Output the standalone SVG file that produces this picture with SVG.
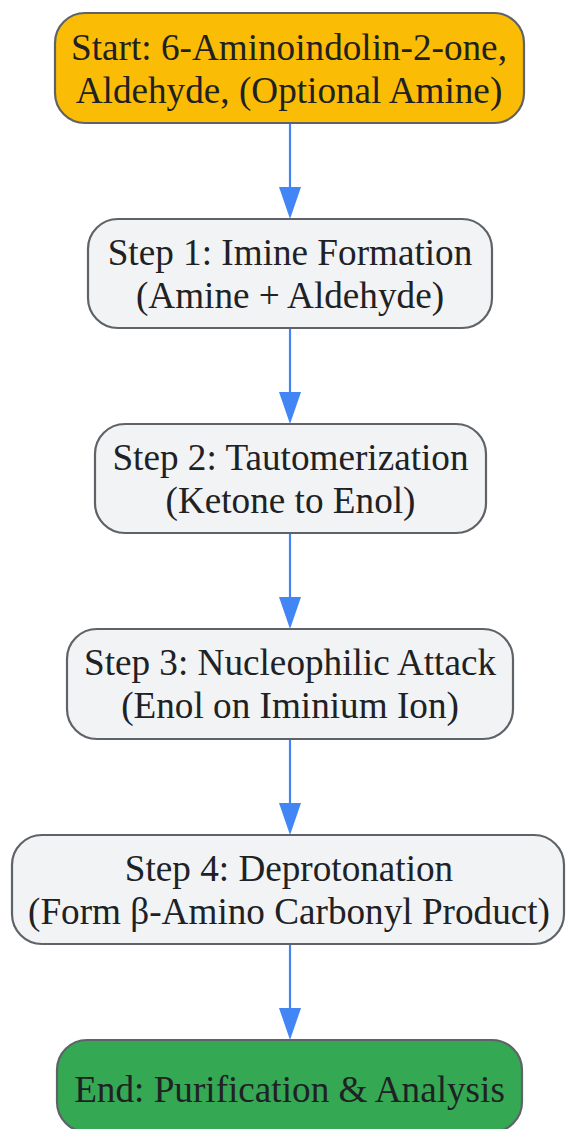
<svg xmlns="http://www.w3.org/2000/svg" width="566" height="1129" viewBox="0 0 566 1129">
<style>
.box{stroke:#5f6368;stroke-width:2.2}
.step{fill:#f1f3f4}
.start{fill:#fbbc05}
.end{fill:#34a853}
.t{font-family:"Liberation Serif","Times New Roman",serif;font-size:37.2px;fill:#202124;text-anchor:middle}
.edge{stroke:#4285f4;stroke-width:2.2;fill:none}
</style>
<defs>
<marker id="ah" viewBox="0 0 32 22" refX="22" refY="11" markerWidth="32" markerHeight="22" markerUnits="userSpaceOnUse" orient="auto">
<path d="M0,0 L32,11 L0,22 z" fill="#4285f4"/>
</marker>
</defs>
<rect width="566" height="1129" fill="#ffffff"/>
<g id="connectors">
<line class="edge" x1="290" y1="123" x2="290" y2="209" marker-end="url(#ah)"/>
<line class="edge" x1="290" y1="328" x2="290" y2="414" marker-end="url(#ah)"/>
<line class="edge" x1="290" y1="533" x2="290" y2="619" marker-end="url(#ah)"/>
<line class="edge" x1="290" y1="739" x2="290" y2="825" marker-end="url(#ah)"/>
<line class="edge" x1="290" y1="944" x2="290" y2="1030" marker-end="url(#ah)"/>
</g>
<g id="start">
<rect class="box start" x="55" y="13" width="469" height="110" rx="30"/>
<text class="t" x="289" y="59.5">Start: 6-Aminoindolin-2-one,</text>
<text class="t" x="289" y="102.5">Aldehyde, (Optional Amine)</text>
</g>
<g id="step1">
<rect class="box step" x="88" y="219" width="404" height="109" rx="30"/>
<text class="t" x="290" y="265">Step 1: Imine Formation</text>
<text class="t" x="290" y="308">(Amine + Aldehyde)</text>
</g>
<g id="step2">
<rect class="box step" x="95" y="424" width="391" height="109" rx="30"/>
<text class="t" x="290.5" y="470">Step 2: Tautomerization</text>
<text class="t" x="290.5" y="513">(Ketone to Enol)</text>
</g>
<g id="step3">
<rect class="box step" x="67" y="629" width="446" height="110" rx="30"/>
<text class="t" x="290" y="675">Step 3: Nucleophilic Attack</text>
<text class="t" x="290" y="718">(Enol on Iminium Ion)</text>
</g>
<g id="step4">
<rect class="box step" x="12" y="835" width="552" height="109" rx="30"/>
<text class="t" x="289" y="881">Step 4: Deprotonation</text>
<text class="t" x="289" y="924">(Form β-Amino Carbonyl Product)</text>
</g>
<g id="end">
<rect class="box end" x="57" y="1040" width="465" height="92" rx="30"/>
<text class="t" x="289.5" y="1102">End: Purification &amp; Analysis</text>
</g>
</svg>
